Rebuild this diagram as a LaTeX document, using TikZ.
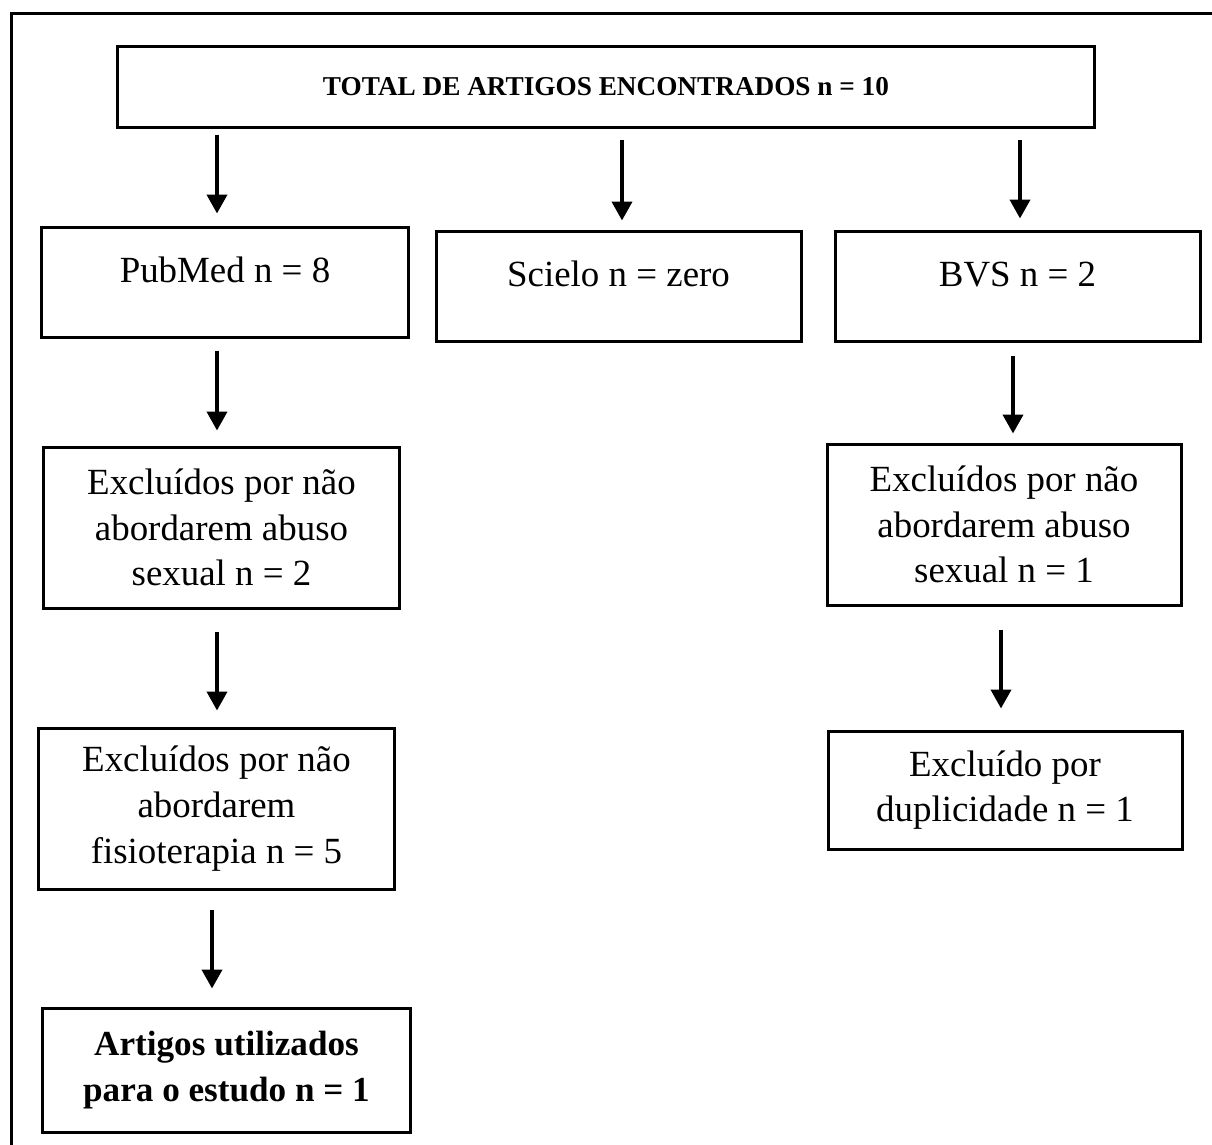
\documentclass[tikz,border=0pt]{standalone}
\usepackage{fontspec}
\setmainfont{Liberation Serif}
\usetikzlibrary{arrows.meta}

\begin{document}
\begin{tikzpicture}
[
    x=0.2mm, y=-0.2mm,
    box_node/.style={rectangle, draw=black, line width=0.6mm, inner sep=0mm, align=center, font=\fontsize{21}{26}\selectfont},
    single_node/.style={box_node, text height=5mm, text depth=5mm},
    title_node/.style={box_node, font=\fontsize{15.5}{18}\selectfont\bfseries},
    bold_node/.style={box_node, font=\fontsize{20}{26}\selectfont\bfseries},
    seta/.style={-{Triangle[width=4mm, length=3.8mm]}, line width=0.8mm, color=black},
]
    \clip (0,0) rectangle (1212,1144) ;
    \draw[line width=0.6mm] (11,13) rectangle (1240,1170) ;
    % topo
    \node[title_node, minimum width=195.2mm, minimum height=16.2mm] (total) at (606,86.5) {TOTAL DE ARTIGOS ENCONTRADOS n = 10} ;
    % bases
    \node[single_node, minimum width=73.2mm, minimum height=22mm] (pubmed) at (225,282) {PubMed n = 8} ;
    \node[single_node, minimum width=73mm, minimum height=22mm] (scielo) at (618.5,286) {Scielo n = zero} ;
    \node[single_node, minimum width=73mm, minimum height=22mm] (bvs) at (1017.5,286) {BVS n = 2} ;
    % exclusoes
    \node[box_node, minimum width=71mm, minimum height=32.2mm] (pubex) at (221.5,527.5) {Excluídos por não\\abordarem abuso\\sexual n = 2} ;
    \node[box_node, minimum width=70.8mm, minimum height=32.2mm] (bvsex) at (1004,524.5) {Excluídos por não\\abordarem abuso\\sexual n = 1} ;
    \node[box_node, minimum width=71mm, minimum height=32.2mm] (pubfis) at (216.5,808.5) {Excluídos por não\\abordarem\\fisioterapia n = 5} ;
    \node[box_node, minimum width=70.8mm, minimum height=23.6mm] (bvsdup) at (1005,790) {Excluído por\\duplicidade n = 1} ;
    \node[bold_node, minimum width=73.4mm, minimum height=24.8mm] (artigos) at (226.5,1070) {Artigos utilizados\\para o estudo n = 1} ;
    % setas
    \draw[seta, shorten <=1.2mm, shorten >=2.4mm] ([xshift=-1.6mm]pubmed.north |- total.south) -- ([xshift=-1.6mm]pubmed.north) ;
    \draw[seta, shorten <=2.2mm, shorten >=1.8mm] ([xshift=0.7mm]scielo.north |- total.south) -- ([xshift=0.7mm]scielo.north) ;
    \draw[seta, shorten <=2.2mm, shorten >=2.2mm] ([xshift=0.5mm]bvs.north |- total.south) -- ([xshift=0.5mm]bvs.north) ;
    \draw[seta, shorten <=2.4mm, shorten >=3.0mm] ([xshift=-0.9mm]pubex.north |- pubmed.south) -- ([xshift=-0.9mm]pubex.north) ;
    \draw[seta, shorten <=2.6mm, shorten >=1.8mm] ([xshift=1.8mm]bvsex.north |- bvs.south) -- ([xshift=1.8mm]bvsex.north) ;
    \draw[seta, shorten <=4.4mm, shorten >=3.2mm] ([xshift=0.1mm]pubfis.north |- pubex.south) -- ([xshift=0.1mm]pubfis.north) ;
    \draw[seta, shorten <=4.6mm, shorten >=4.2mm] ([xshift=-0.8mm]bvsdup.north |- bvsex.south) -- ([xshift=-0.8mm]bvsdup.north) ;
    \draw[seta, shorten <=3.8mm, shorten >=3.6mm] ([xshift=-2.9mm]artigos.north |- pubfis.south) -- ([xshift=-2.9mm]artigos.north) ;
\end{tikzpicture}
\end{document}
